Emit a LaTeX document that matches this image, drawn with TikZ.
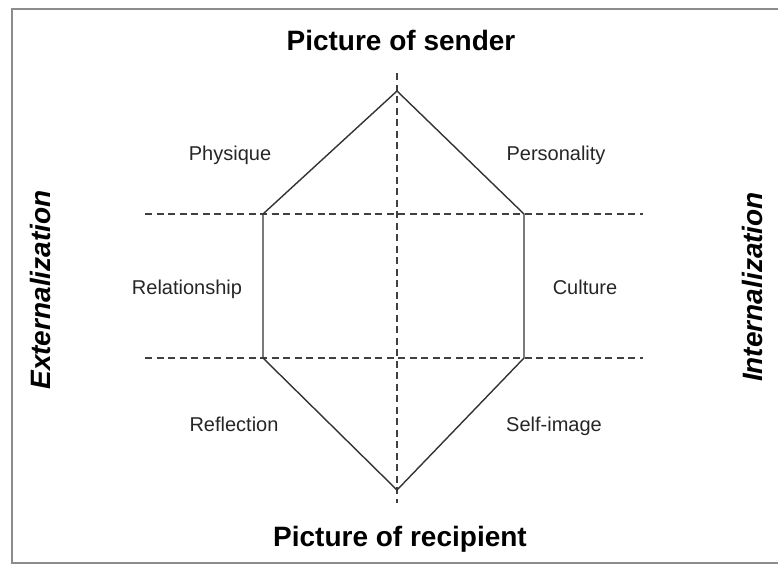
\documentclass[tikz,border=0pt]{standalone}
\usepackage{fontspec}
\setmainfont{Liberation Sans}
\begin{document}
\begin{tikzpicture}[x=1pt,y=-1pt,
  hexline/.style={line width=1.4pt,draw=black!80},
  guide/.style={line width=1.3pt,draw=black!75,dash pattern=on 7pt off 4.5pt},
  frameline/.style={line width=2pt,draw=black!45},
  title/.style={font=\fontsize{28}{30}\selectfont\bfseries,anchor=base,inner sep=0pt},
  side/.style={font=\fontsize{28}{30}\selectfont\bfseries\itshape,rotate=90,inner sep=0pt},
  lab/.style={font=\fontsize{20}{22}\selectfont,anchor=base,inner sep=0pt,text=black!85}]
\useasboundingbox (0,0) rectangle (778,565);
% frame
\coordinate (fbl) at (12,563);
\coordinate (ftl) at (12,9);
\coordinate (ftr) at (779,9);
\coordinate (fbr) at (779,563);
\draw[frameline] (fbr) -- (fbl) -- (ftl) -- (ftr);
% hexagon vertices
\coordinate (T) at (397,91);
\coordinate (UL) at (263,214);
\coordinate (UR) at (524,214);
\coordinate (LL) at (263,358);
\coordinate (LR) at (524,358);
\coordinate (B) at (397,490);
% guides
\coordinate (vt) at (397,73);
\coordinate (vb) at (397,503);
\coordinate (h1l) at (145,214);
\coordinate (h1r) at (643,214);
\coordinate (h2l) at (145,358);
\coordinate (h2r) at (643,358);
\draw[guide] (vt) -- (vb);
\draw[guide] (h1l) -- (h1r);
\draw[guide] (h2l) -- (h2r);
\draw[hexline,line join=miter] (T) -- (UR) -- (LR) -- (B) -- (LL) -- (UL) -- cycle;
% titles
\node[title] (sender) at (401,50) {Picture of sender};
\node[title] (recip) at (400,546) {Picture of recipient};
\node[side] (ext) at (40,290) {Externalization};
\node[side] (int) at (752,287) {Internalization};
% labels
\node[lab] (phys) at (230,160) {Physique};
\node[lab] (pers) at (556,160) {Personality};
\node[lab] (rel) at (187,294) {Relationship};
\node[lab] (cult) at (585,294) {Culture};
\node[lab] (refl) at (234,431) {Reflection};
\node[lab] (self) at (554,431) {Self-image};
\end{tikzpicture}
\end{document}
